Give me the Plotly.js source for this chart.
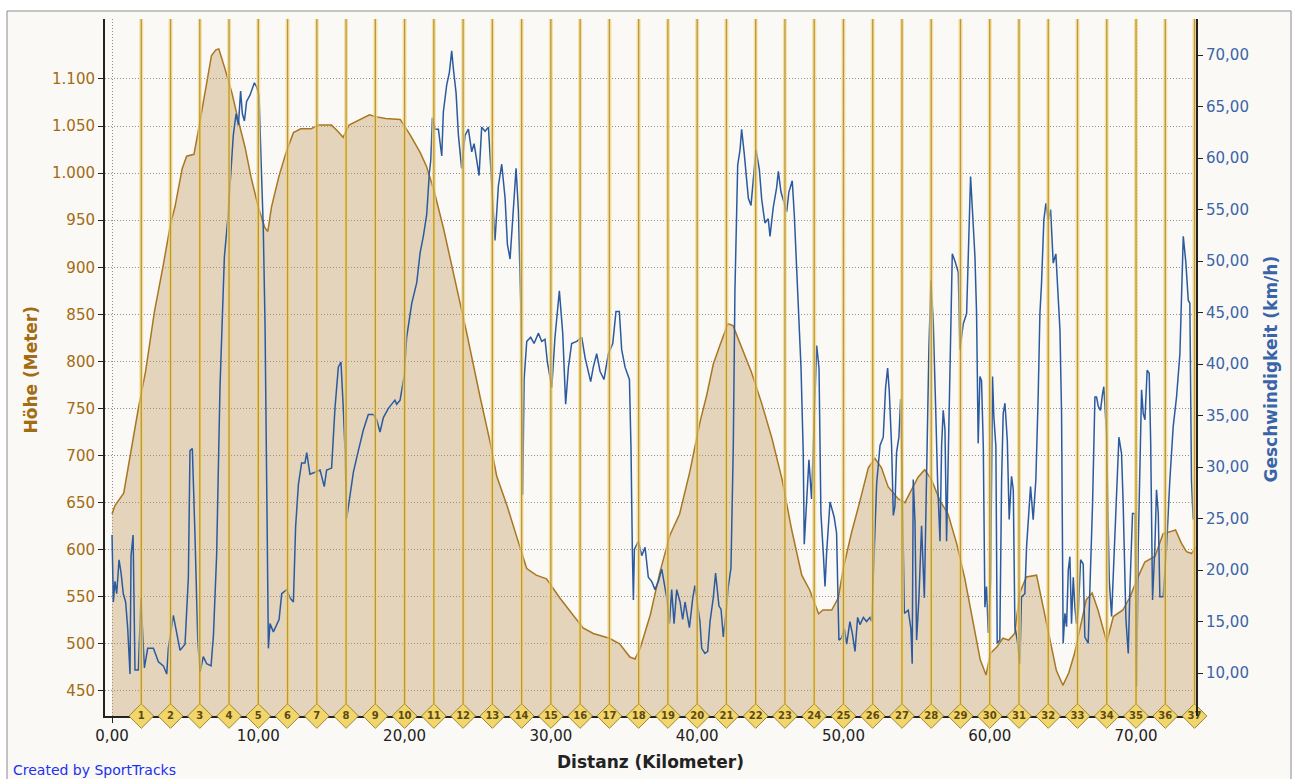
<!DOCTYPE html>
<html>
<head>
<meta charset="utf-8">
<script src="https://cdn.plot.ly/plotly-3.0.1.min.js"></script>
<style>html,body{margin:0;padding:0;background:#ffffff;}#chart{width:1292px;height:779px;}</style>
</head>
<body>
<div id="chart"></div>
<script>
// Elevation profile (distance km, height m)
var elevKm = [0,0.2,0.8,1.2,1.8,2.3,2.9,3.5,4.0,4.3,4.8,5.1,5.6,5.9,6.4,6.8,7.1,7.3,7.7,8.2,8.6,9.1,9.5,10.0,10.45,10.65,10.9,11.4,11.9,12.4,12.9,13.6,14.1,15.0,15.4,15.8,16.2,16.8,17.6,18.0,18.7,19.7,20.4,21.06,21.5,22.0,22.65,23.35,24.25,25.15,25.85,26.3,27.0,27.9,28.35,29.0,29.7,30.6,31.5,32.2,32.9,34.0,34.7,35.4,35.75,36.1,36.8,37.45,38.15,38.8,39.5,39.9,40.2,40.65,41.1,41.55,42.1,42.45,43.0,43.7,44.4,45.1,45.8,46.45,47.15,47.7,48.3,48.6,49.2,49.65,50.0,50.55,51.1,51.7,52.15,52.6,53.05,53.75,54.2,54.65,55.1,55.55,56.0,56.6,57.15,57.75,58.3,58.9,59.35,59.75,60.05,60.5,60.9,61.3,61.7,62.05,62.5,63.2,63.55,64.0,64.55,65.0,65.4,65.8,66.15,66.6,67.0,67.4,68.0,68.45,69.1,69.6,70.05,70.6,71.3,71.6,71.85,72.3,72.7,73.1,73.45,73.8,74.1];
var elevM = [638,647,660,696,750,790,853,902,946,964,1005,1018,1020,1045,1089,1125,1131,1132,1112,1085,1058,1027,996,964,942,938,964,996,1022,1043,1047,1047,1051,1051,1045,1038,1051,1056,1062,1060,1058,1057,1040,1022,1007,982,942,893,830,763,714,678,647,602,580,573,569,549,531,517,511,506,500,486,484,495,531,576,616,638,683,715,736,764,797,817,840,838,817,789,756,719,675,622,573,557,532,536,536,549,581,618,650,687,697,687,667,654,650,663,677,685,675,652,638,606,569,520,483,467,490,497,506,504,511,554,571,573,547,511,472,456,469,490,515,547,554,536,502,529,536,550,568,587,593,607,617,619,621,607,598,596,603];

// Speed (distance km, km/h)
var speedKm = [0.0,0.09,0.2,0.32,0.48,0.62,0.77,0.93,1.07,1.23,1.3,1.44,1.57,1.8,1.98,2.21,2.44,2.83,3.17,3.51,3.74,3.85,4.19,4.42,4.65,4.99,5.22,5.33,5.49,5.67,5.86,6.02,6.24,6.47,6.77,6.93,7.15,7.38,7.5,7.68,7.91,8.13,8.29,8.48,8.64,8.79,8.91,9.05,9.2,9.43,9.73,9.89,10.05,10.18,10.34,10.46,10.57,10.64,10.69,10.8,11.03,11.26,11.42,11.6,11.94,12.17,12.4,12.55,12.74,12.96,13.19,13.31,13.53,13.88,14.22,14.51,14.67,15.01,15.24,15.47,15.65,15.81,15.93,16.04,16.27,16.5,16.84,17.18,17.52,17.86,18.09,18.32,18.55,18.89,19.34,19.46,19.69,19.8,19.98,20.14,20.49,20.83,21.06,21.28,21.51,21.69,21.79,21.9,22.08,22.31,22.54,22.65,22.88,23.06,23.22,23.34,23.52,23.68,23.9,24.13,24.36,24.59,24.75,24.93,25.09,25.27,25.5,25.73,25.96,26.18,26.41,26.64,26.87,27.03,27.21,27.44,27.62,27.78,27.94,28.07,28.17,28.35,28.62,28.85,29.15,29.37,29.6,29.76,30.06,30.28,30.58,30.81,31.01,31.2,31.42,31.77,32.11,32.34,32.72,32.9,33.13,33.36,33.63,33.93,34.23,34.45,34.68,34.84,35.07,35.37,35.48,35.57,35.64,35.71,35.98,36.21,36.44,36.66,36.89,37.12,37.35,37.58,37.8,37.92,38.1,38.26,38.42,38.6,38.83,39.01,39.17,39.47,39.7,39.85,40.19,40.31,40.53,40.72,40.88,41.1,41.26,41.4,41.49,41.63,41.79,41.97,42.13,42.31,42.47,42.58,42.77,42.93,43.04,43.22,43.38,43.5,43.68,43.84,44.02,44.25,44.41,44.63,44.86,44.98,45.2,45.43,45.55,45.73,45.96,46.12,46.27,46.5,46.64,46.8,46.96,47.1,47.25,47.32,47.48,47.64,47.82,48.01,48.17,48.33,48.46,48.62,48.74,48.85,49.08,49.24,49.37,49.53,49.69,49.87,50.06,50.22,50.44,50.6,50.79,50.97,51.13,51.36,51.58,51.81,51.93,52.27,52.5,52.72,52.88,53.02,53.13,53.29,53.41,53.52,53.63,53.79,53.91,54.02,54.16,54.43,54.61,54.7,54.77,54.89,55.0,55.16,55.34,55.53,55.62,55.73,55.84,55.98,56.14,56.3,56.44,56.6,56.71,56.82,56.94,57.05,57.21,57.35,57.44,57.62,57.85,57.96,58.19,58.42,58.6,58.69,58.83,58.99,59.1,59.21,59.33,59.44,59.56,59.67,59.78,59.9,60.06,60.19,60.28,60.42,60.51,60.69,60.81,60.92,61.04,61.2,61.33,61.49,61.61,61.72,61.88,62.06,62.17,62.4,62.52,62.7,62.79,62.97,63.15,63.31,63.43,63.54,63.7,63.84,64.0,64.16,64.34,64.52,64.64,64.8,64.91,65.02,65.14,65.25,65.37,65.48,65.59,65.71,65.82,65.93,66.05,66.21,66.39,66.5,66.73,66.89,67.03,67.19,67.3,67.42,67.57,67.71,67.8,67.98,68.17,68.33,68.49,68.67,68.83,69.01,69.12,69.31,69.47,69.58,69.76,69.92,70.04,70.15,70.26,70.38,70.49,70.61,70.76,70.9,71.0,71.13,71.29,71.4,71.52,71.63,71.86,72.09,72.31,72.54,72.77,73.0,73.11,73.23,73.41,73.57,73.68,73.79,73.91];
var speedKmh = [23.4,16.9,18.9,17.7,21.0,19.7,17.7,16.9,14.4,9.9,21.4,23.4,10.3,10.3,17.3,10.5,12.4,12.4,11.1,10.7,9.9,12.4,15.6,14.0,12.2,12.8,19.3,31.6,31.8,23.4,13.2,10.1,11.6,10.9,10.7,13.6,21.4,37.7,43.8,50.4,54.0,59.0,62.2,64.3,63.2,66.5,64.3,63.6,65.5,66.1,67.3,66.9,66.1,60.2,53.2,43.8,31.6,19.3,12.4,14.8,14.0,14.8,15.2,17.7,18.1,17.3,16.9,24.2,28.3,30.4,30.4,31.4,29.3,29.5,29.7,28.1,29.7,29.9,35.7,39.7,40.2,35.7,31.6,25.0,27.1,29.5,31.6,33.6,35.1,35.1,34.6,33.4,34.8,35.7,36.5,36.1,36.5,37.3,38.9,42.6,45.9,47.9,50.8,52.4,54.5,58.5,59.8,63.9,62.8,62.8,60.2,64.5,67.1,68.3,70.4,68.6,66.3,62.2,59.0,62.2,62.8,60.6,61.4,59.8,58.3,63.0,62.6,63.0,56.9,52.0,57.3,59.4,56.1,51.6,50.2,55.3,59.0,54.9,45.9,27.3,38.5,42.2,42.6,42.0,43.0,42.2,42.4,40.2,37.7,42.6,47.1,43.0,36.1,39.7,42.0,42.2,42.6,40.6,38.3,39.7,41.0,39.3,38.5,41.0,42.0,45.1,45.1,41.4,39.7,38.5,31.6,21.8,17.1,22.0,22.8,21.4,22.2,19.3,18.9,18.1,18.9,20.1,18.5,17.3,14.8,18.1,14.8,18.1,16.9,15.2,16.9,14.4,17.3,18.5,15.0,12.4,11.9,12.1,15.0,17.3,19.7,17.3,16.5,16.2,13.5,15.8,18.4,20.2,32.1,47.0,59.3,60.8,62.8,60.4,58.2,56.1,55.4,58.2,60.8,58.9,56.0,53.7,54.1,52.4,55.2,57.1,58.7,56.7,55.6,54.8,56.7,57.8,54.5,49.3,45.2,39.6,31.4,22.5,26.6,30.7,26.9,35.9,41.8,39.6,25.5,21.7,18.4,21.7,26.6,25.8,25.1,23.6,13.2,13.4,14.3,12.8,15.0,13.9,12.1,15.4,14.7,15.4,15.0,15.4,15.0,28.4,32.1,32.9,37.7,39.6,37.4,32.1,25.3,26.2,31.4,32.9,36.6,28.4,15.8,16.1,14.3,10.9,28.8,24.7,13.2,17.3,24.3,17.3,24.7,34.0,41.4,48.1,44.0,35.9,28.4,22.8,32.1,35.5,33.6,22.8,35.9,47.0,50.7,50.0,48.9,41.4,43.9,44.9,54.6,58.2,54.6,50.4,44.9,32.3,38.8,38.4,32.0,16.4,18.4,13.9,19.0,38.8,34.9,32.0,12.9,13.2,28.7,35.2,36.2,32.6,24.9,29.1,27.8,14.5,13.2,10.9,17.4,17.7,22.3,26.8,28.1,24.9,28.7,36.8,44.9,47.8,54.0,55.6,54.0,55.0,49.8,50.7,47.5,43.3,35.2,12.9,15.8,14.5,20.0,21.3,14.8,19.3,16.4,14.8,15.8,21.0,20.6,13.5,12.9,20.0,26.5,36.8,36.8,35.9,35.5,37.1,37.8,33.3,19.0,15.5,21.0,27.1,32.9,31.3,26.5,15.2,11.9,18.0,25.5,25.5,8.7,22.3,29.7,37.5,35.2,34.6,39.4,39.1,32.6,17.1,22.3,27.8,25.5,17.4,17.4,22.3,28.7,33.9,36.8,41.0,46.5,52.4,49.8,46.2,45.9,28.7,24.9];

// Lap markers (distance km, label)
var lapKm = [2,4,6,8,10,12,14,16,18,20,22,24,26,28,30,32,34,36,38,40,42,44,46,48,50,52,54,56,58,60,62,64,66,68,70,72,74];
var lapLabels = ['1','2','3','4','5','6','7','8','9','10','11','12','13','14','15','16','17','18','19','20','21','22','23','24','25','26','27','28','29','30','31','32','33','34','35','36','37'];

// Tick values
var elevTicks = [450,500,550,600,650,700,750,800,850,900,950,1000,1050,1100];
var speedTicks = [10,15,20,25,30,35,40,45,50,55,60,65,70];
var distTicks = [0,10,20,30,40,50,60,70];

var FONT = 'DejaVu Sans, Verdana, sans-serif';
var BROWN = '#A36B12';
var BLUE = '#3A64A8';

var traces = [
  {
    x: elevKm, y: elevM, type: 'scatter', mode: 'lines', name: 'Höhe',
    fill: 'tozeroy', fillcolor: 'rgba(190,150,90,0.37)',
    line: {color: '#AA7620', width: 1.5}, yaxis: 'y', hoverinfo: 'skip'
  },
  {
    x: speedKm, y: speedKmh, type: 'scatter', mode: 'lines', name: 'Geschwindigkeit',
    line: {color: '#2C5AA0', width: 1.5}, yaxis: 'y2', hoverinfo: 'skip'
  },
  {
    x: lapKm, y: lapKm.map(function(){return 0;}), type: 'scatter', mode: 'markers+text',
    text: lapLabels, textposition: 'middle center',
    textfont: {family: FONT, size: 10, color: '#5B4A12', weight: 'bold'},
    marker: {symbol: 'diamond', size: 19, color: '#F2D56B', line: {color: '#9C8632', width: 1}},
    cliponaxis: false, yaxis: 'y3', hoverinfo: 'skip'
  }
];

var shapes = [
  {type: 'rect', xref: 'paper', yref: 'paper', x0: -0.0898, x1: 1.0871, y0: -0.2, y1: 1.0115,
   line: {color: '#8c8c8c', width: 1}, fillcolor: '#FAF9F5', layer: 'below'}
];
lapKm.forEach(function(k){
  shapes.push({type: 'line', xref: 'x', yref: 'paper', x0: k, x1: k, y0: 0.016, y1: 1,
    line: {color: 'rgba(244,214,120,0.7)', width: 4}, layer: 'above'});
  shapes.push({type: 'line', xref: 'x', yref: 'paper', x0: k, x1: k, y0: 0.016, y1: 1,
    line: {color: 'rgba(175,138,48,0.85)', width: 1.3}, layer: 'above'});
});

var layout = {
  width: 1292, height: 779,
  margin: {l: 105, r: 96, t: 19, b: 63},
  paper_bgcolor: '#ffffff', plot_bgcolor: 'rgba(0,0,0,0)',
  separators: ',.',
  showlegend: false,
  font: {family: FONT, size: 15, color: '#222'},
  xaxis: {
    range: [-0.48, 74.1], tickvals: distTicks, tickformat: '.2f',
    ticks: 'outside', ticklen: 5, tickcolor: '#222', tickwidth: 1,
    showline: true, linecolor: '#222', linewidth: 2,
    showgrid: true, gridcolor: '#8f8f8f', griddash: '1px,2px', gridwidth: 1,
    zeroline: false, layer: 'below traces',
    tickfont: {family: FONT, size: 15, color: '#222'}
  },
  yaxis: {
    range: [423.4, 1163.7], tickvals: elevTicks, tickformat: ',d',
    ticks: 'outside', ticklen: 5, tickcolor: '#222', tickwidth: 1,
    showline: true, linecolor: '#222', linewidth: 2,
    showgrid: true, gridcolor: '#8f8f8f', griddash: '1px,2px', gridwidth: 1,
    zeroline: false, tickfont: {family: FONT, size: 15, color: BROWN}
  },
  yaxis2: {
    range: [5.83, 73.5], tickvals: speedTicks, tickformat: '.2f',
    overlaying: 'y', side: 'right',
    ticks: 'outside', ticklen: 5, tickcolor: '#222', tickwidth: 1,
    showline: true, linecolor: '#222', linewidth: 2,
    showgrid: false, zeroline: false,
    tickfont: {family: FONT, size: 15, color: BLUE}
  },
  yaxis3: {range: [0, 1], overlaying: 'y', visible: false, fixedrange: true},
  shapes: shapes,
  annotations: [
    {text: '<b>Höhe (Meter)</b>', xref: 'paper', yref: 'paper', x: 0, y: 0.5, xshift: -75, yshift: -3,
     textangle: -90, showarrow: false, xanchor: 'center', yanchor: 'middle',
     font: {family: FONT, size: 17, color: BROWN}},
    {text: '<b>Geschwindigkeit (km/h)</b>', xref: 'paper', yref: 'paper', x: 1, y: 0.5, xshift: 74, yshift: -2,
     textangle: -90, showarrow: false, xanchor: 'center', yanchor: 'middle',
     font: {family: FONT, size: 17, color: BLUE}},
    {text: '<b>Distanz (Kilometer)</b>', xref: 'paper', yref: 'paper', x: 0.5, y: 0, yshift: -46,
     showarrow: false, xanchor: 'center', yanchor: 'middle',
     font: {family: FONT, size: 17, color: '#222'}},
    {text: 'Created by SportTracks', xref: 'paper', yref: 'paper', x: -0.0862, y: 0, yshift: -54,
     showarrow: false, xanchor: 'left', yanchor: 'middle',
     font: {family: FONT, size: 14, color: '#2030F0'}}
  ]
};

Plotly.newPlot('chart', traces, layout, {staticPlot: true, displayModeBar: false});
</script>
</body>
</html>
